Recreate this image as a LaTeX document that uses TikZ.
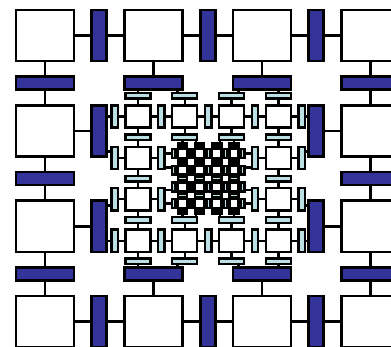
\documentclass[tikz,border=0pt]{standalone}
\usepackage{tikz}
\definecolor{bigbar}{RGB}{51,51,153}
\definecolor{smallbar}{RGB}{188,223,227}

\begin{document}
\begin{tikzpicture}[x=0.025cm,y=-0.025cm,
    cell/.style={draw=black,rectangle,inner sep=0pt},
    tileA/.style={cell,fill=white,line width=1.85pt,minimum width=1.45cm,minimum height=1.275cm},
    vbarA/.style={cell,fill=bigbar,line width=1.85pt,minimum width=0.375cm,minimum height=1.275cm},
    hbarA/.style={cell,fill=bigbar,line width=1.85pt,minimum width=1.45cm,minimum height=0.325cm},
    tileB/.style={cell,fill=white,line width=1.64pt,minimum width=0.625cm,minimum height=0.555cm},
    vbarB/.style={cell,fill=smallbar,line width=1.64pt,minimum width=0.1625cm,minimum height=0.555cm},
    hbarB/.style={cell,fill=smallbar,line width=1.64pt,minimum width=0.625cm,minimum height=0.14cm},
    tileC/.style={cell,fill=white,line width=1.75pt,minimum width=0.23cm,minimum height=0.2225cm},
    vbarC/.style={cell,fill=smallbar,line width=1.75pt,minimum width=0.085cm,minimum height=0.2225cm},
    hbarC/.style={cell,fill=smallbar,line width=1.75pt,minimum width=0.23cm,minimum height=0.075cm},
    linkA/.style={line width=1.85pt},
    linkB/.style={line width=1.64pt},
    linkC/.style={line width=1.75pt}]
\useasboundingbox (0,0) rectangle (391,347);
\clip (0,0) rectangle (391,347);

% outer ring
\foreach \i in {0,...,3}
  \foreach \j in {0,...,3} {
    \pgfmathtruncatemacro\hole{(\i>0)*(\i<3)*(\j>0)*(\j<3)}
    \ifnum\hole=0
      \node[tileA] (A-\i-\j) at ({45+108.5*\j},{35.5+95.4*\i}) {};
    \fi
  }
\foreach \i in {0,...,3}
  \foreach \k in {0,1,2} {
    \pgfmathtruncatemacro\nxt{\k+1}
    \pgfmathtruncatemacro\inrow{(\i>0)*(\i<3)}
    \pgfmathtruncatemacro\lefthole{\inrow*(\k>0)}
    \pgfmathtruncatemacro\righthole{\inrow*(\k<2)}
    \pgfmathtruncatemacro\barhole{\inrow*(\k==1)}
    \ifnum\barhole=0
      \node[vbarA] (Av-\i-\k) at ({99.25+108.5*\k},{35.5+95.4*\i}) {};
      \ifnum\lefthole=0 \draw[linkA] (A-\i-\k.east) -- (Av-\i-\k.west); \fi
      \ifnum\righthole=0 \draw[linkA] (Av-\i-\k.east) -- (A-\i-\nxt.west); \fi
    \fi
  }
\foreach \k in {0,1,2}
  \foreach \j in {0,...,3} {
    \pgfmathtruncatemacro\nxt{\k+1}
    \pgfmathtruncatemacro\incol{(\j>0)*(\j<3)}
    \pgfmathtruncatemacro\tophole{\incol*(\k>0)}
    \pgfmathtruncatemacro\bothole{\incol*(\k<2)}
    \pgfmathtruncatemacro\barhole{\incol*(\k==1)}
    \ifnum\barhole=0
      \node[hbarA] (Ah-\k-\j) at ({45+108.5*\j},{83.2+95.4*\k}) {};
      \ifnum\tophole=0 \draw[linkA] (A-\k-\j.south) -- (Ah-\k-\j.north); \fi
      \ifnum\bothole=0 \draw[linkA] (Ah-\k-\j.south) -- (A-\nxt-\j.north); \fi
    \fi
  }

% second ring
\foreach \i in {0,...,3}
  \foreach \j in {0,...,3} {
    \pgfmathtruncatemacro\hole{(\i>0)*(\i<3)*(\j>0)*(\j<3)}
    \ifnum\hole=0
      \node[tileB] (B-\i-\j) at ({138+46.8*\j},{116.5+41.4*\i}) {};
    \fi
  }
\foreach \i in {0,...,3}
  \foreach \k in {0,...,4} {
    \pgfmathtruncatemacro\prv{\k-1}
    \pgfmathtruncatemacro\inrow{(\i>0)*(\i<3)}
    \pgfmathtruncatemacro\lefthole{(\k==0)+\inrow*(\k>1)*(\k<4)}
    \pgfmathtruncatemacro\righthole{(\k==4)+\inrow*(\k>0)*(\k<3)}
    \pgfmathtruncatemacro\barhole{\inrow*(\k==2)}
    \ifnum\barhole=0
      \node[vbarB] (Bv-\i-\k) at ({114.6+46.8*\k},{116.5+41.4*\i}) {};
      \ifnum\lefthole=0 \draw[linkB] (B-\i-\prv.east) -- (Bv-\i-\k.west); \fi
      \ifnum\righthole=0 \draw[linkB] (Bv-\i-\k.east) -- (B-\i-\k.west); \fi
    \fi
  }
\foreach \k in {0,...,4}
  \foreach \j in {0,...,3} {
    \pgfmathtruncatemacro\prv{\k-1}
    \pgfmathtruncatemacro\incol{(\j>0)*(\j<3)}
    \pgfmathtruncatemacro\tophole{(\k==0)+\incol*(\k>1)*(\k<4)}
    \pgfmathtruncatemacro\bothole{(\k==4)+\incol*(\k>0)*(\k<3)}
    \pgfmathtruncatemacro\barhole{\incol*(\k==2)}
    \ifnum\barhole=0
      \node[hbarB] (Bh-\k-\j) at ({138+46.8*\j},{95.8+41.4*\k}) {};
      \ifnum\tophole=0 \draw[linkB] (B-\prv-\j.south) -- (Bh-\k-\j.north); \fi
      \ifnum\bothole=0 \draw[linkB] (Bh-\k-\j.south) -- (B-\k-\j.north); \fi
    \fi
  }
\foreach \i in {1,2}
  \foreach \h in {0,1} {
    \pgfmathtruncatemacro\rw{2*\i-2+\h}
    \pgfmathsetmacro\ym{(max(10+95.4*\i,105.4+41.4*\rw)+min(61+95.4*\i,127.6+41.4*\rw))/2}
    \draw[linkB] (Av-\i-0.east |- 0,\ym) -- (Bv-\rw-0.west |- 0,\ym);
    \draw[linkB] (Bv-\rw-4.east |- 0,\ym) -- (Av-\i-2.west |- 0,\ym);
  }
\foreach \j in {1,2}
  \foreach \h in {0,1} {
    \pgfmathtruncatemacro\cl{2*\j-2+\h}
    \pgfmathsetmacro\xm{(max(16+108.5*\j,125.5+46.8*\cl)+min(74+108.5*\j,150.5+46.8*\cl))/2}
    \draw[linkB] (Ah-0-\j.south -| \xm,0) -- (Bh-0-\cl.north -| \xm,0);
    \draw[linkB] (Bh-4-\cl.south -| \xm,0) -- (Ah-2-\j.north -| \xm,0);
  }

% core
\foreach \i in {0,...,3}
  \foreach \j in {0,...,3}
    \node[tileC] (C-\i-\j) at ({182.4+17.2*\j},{153.55+16.7*\i}) {};
\foreach \i in {0,...,3}
  \foreach \k in {0,...,4} {
    \pgfmathtruncatemacro\prv{\k-1}
    \node[vbarC] (Cv-\i-\k) at ({173.8+17.2*\k},{153.55+16.7*\i}) {};
    \ifnum\k>0 \draw[linkC] (C-\i-\prv.east) -- (Cv-\i-\k.west); \fi
    \ifnum\k<4 \draw[linkC] (Cv-\i-\k.east) -- (C-\i-\k.west); \fi
  }
\foreach \k in {0,...,4}
  \foreach \j in {0,...,3} {
    \pgfmathtruncatemacro\prv{\k-1}
    \node[hbarC] (Ch-\k-\j) at ({182.4+17.2*\j},{145.2+16.7*\k}) {};
    \ifnum\k>0 \draw[linkC] (C-\prv-\j.south) -- (Ch-\k-\j.north); \fi
    \ifnum\k<4 \draw[linkC] (Ch-\k-\j.south) -- (C-\k-\j.north); \fi
  }
\foreach \i in {1,2}
  \foreach \h in {0,1} {
    \pgfmathtruncatemacro\rw{2*\i-2+\h}
    \pgfmathsetmacro\ym{(max(105.4+41.4*\i,149.1+16.7*\rw)+min(127.6+41.4*\i,158+16.7*\rw))/2}
    \draw[linkC] (Bv-\i-1.east |- 0,\ym) -- (Cv-\rw-0.west |- 0,\ym);
    \draw[linkC] (Cv-\rw-4.east |- 0,\ym) -- (Bv-\i-3.west |- 0,\ym);
  }
\foreach \j in {1,2}
  \foreach \h in {0,1} {
    \pgfmathtruncatemacro\cl{2*\j-2+\h}
    \pgfmathsetmacro\xm{(max(125.5+46.8*\j,177.8+17.2*\cl)+min(150.5+46.8*\j,187+17.2*\cl))/2}
    \draw[linkC] (Bh-1-\j.south -| \xm,0) -- (Ch-0-\cl.north -| \xm,0);
    \draw[linkC] (Ch-4-\cl.south -| \xm,0) -- (Bh-3-\j.north -| \xm,0);
  }
\end{tikzpicture}
\end{document}
